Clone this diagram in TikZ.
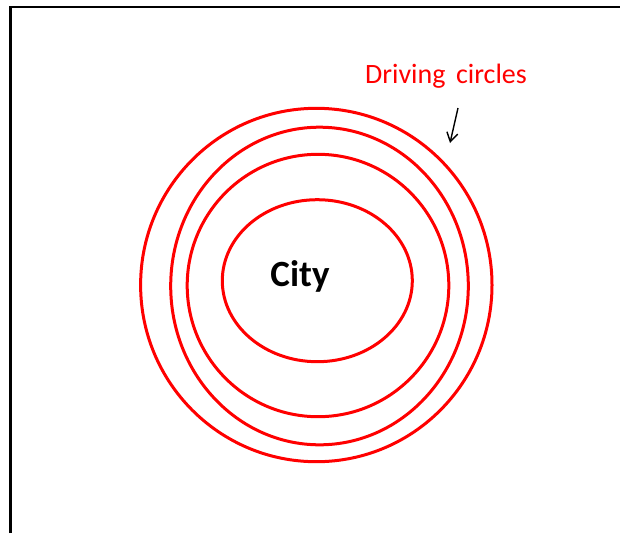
\documentclass[tikz,border=0pt]{standalone}
\usepackage{fontspec}
\setmainfont{Carlito}
\usetikzlibrary{arrows.meta}

\begin{document}
\begin{tikzpicture}[
  x=1pt, y=-1pt,
  ring/.style={draw=red, line width=3pt},
  frame/.style={draw=black, line width=2.2pt},
  lbl/.style={text=red, font=\fontsize{28}{32}\selectfont, inner sep=0pt},
  cty/.style={font=\fontsize{37}{40}\selectfont\bfseries, inner sep=0pt},
  ark/.style={-{Straight Barb[length=9pt, width=11pt]}, line width=1.4pt}
]
\useasboundingbox (0,0) rectangle (620,533);
% open frame, top and left edges only
\coordinate (fl) at (10.5,533);
\coordinate (ftl) at (10.5,7);
\coordinate (ftr) at (620,7);
\draw[frame] (fl) -- (ftl) -- (ftr);
% rings round the city
\coordinate (o1) at (316.3,285);
\coordinate (o2) at (319.5,286);
\coordinate (o3) at (318,285.5);
\coordinate (o4) at (317.3,280.7);
\draw[ring] (o1) ellipse [x radius=175.7, y radius=176.7];
\draw[ring] (o2) ellipse [x radius=148.8, y radius=158.8];
\draw[ring] (o3) ellipse [x radius=130.8, y radius=131.2];
\draw[ring] (o4) ellipse [x radius=95, y radius=81];
\node[cty] (city) at (300,276) {City};
\node[lbl] (drv) at (446,76) {Driving\hspace{0.15em} circles};
\coordinate (at) at (458,108);
\coordinate (ah) at (450,143);
\draw[ark] (at) -- (ah);
\end{tikzpicture}
\end{document}
